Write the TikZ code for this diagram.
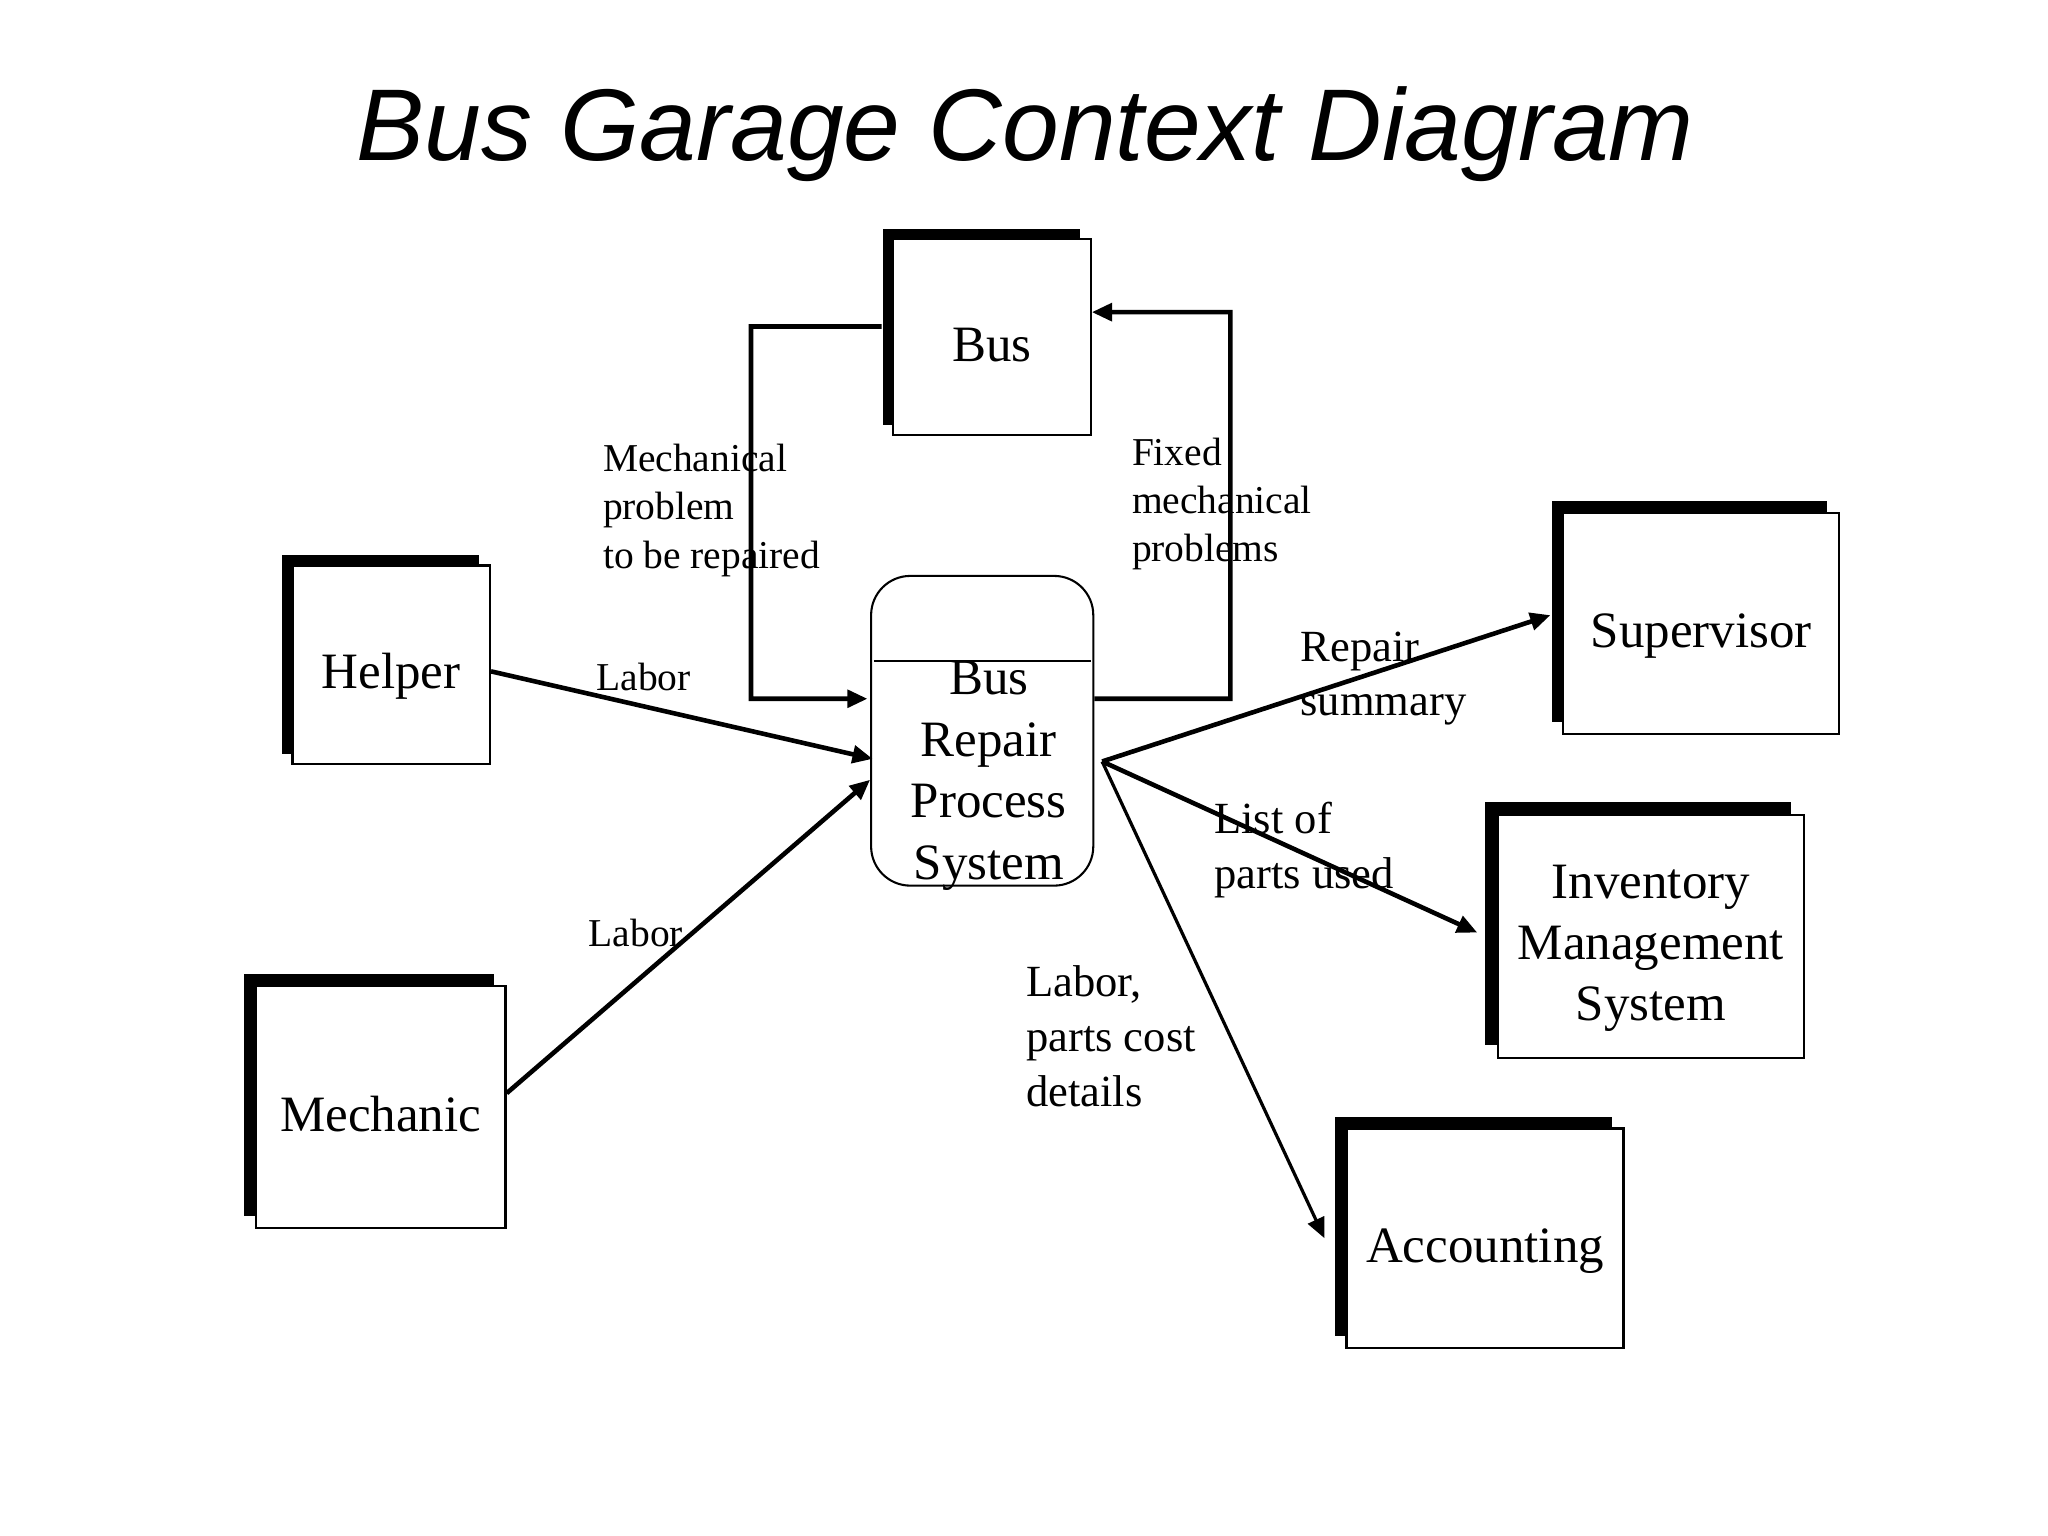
\documentclass[tikz,border=0pt]{standalone}
\usepackage{fontspec}
\setmainfont{Liberation Serif}
\newfontfamily\titlefont{Liberation Sans}
\usetikzlibrary{arrows.meta,shadows}
\tikzset{
  entity/.style={draw, line width=0.5pt, fill=white, inner sep=0pt, align=center,
    font=\fontsize{11.1}{13.3}\selectfont, text height=10.5pt, text depth=0pt,
    general shadow={fill=black, draw=none, shadow xshift=-#1, shadow yshift=#1}},
  entity/.default=0.09cm,
  flow/.style={line width=1pt, -{Triangle[length=4.4pt,width=3.8pt]}},
  lbl/.style={anchor=base west, align=left, inner sep=0pt, font=\fontsize{8.6}{10.5}\selectfont},
  biglbl/.style={anchor=base west, align=left, inner sep=0pt, font=\fontsize{9.7}{11.9}\selectfont},
}
\begin{document}
\begin{tikzpicture}[x=0.01cm,y=-0.01cm]
\useasboundingbox (0,0) rectangle (1568,1176);
\node[anchor=base, inner sep=0pt, font=\titlefont\itshape\fontsize{22.2}{26}\selectfont] (title) at (785,123) {Bus Garage Context Diagram};

\node[entity=0.08cm, minimum width=1.51cm, minimum height=1.50cm] (bus) at (759.5,258) {Bus};
\node[entity=0.08cm, minimum width=1.51cm, minimum height=1.52cm] (helper) at (299.5,509) {Helper};
\node[entity=0.09cm, minimum width=1.91cm, minimum height=1.85cm] (mech) at (291.5,847.5) {Mechanic};
\node[entity, minimum width=2.11cm, minimum height=1.69cm] (sup) at (1302.5,477.5) {Supervisor};
\node[entity=0.1cm, minimum width=2.34cm, minimum height=1.86cm, text height=36.8pt] (inv) at (1264,717) {Inventory\\Management\\System};
\node[entity, minimum width=2.12cm, minimum height=1.68cm] (acc) at (1137,948) {Accounting};

\node[draw, line width=0.45pt, rounded corners=0.3cm, minimum width=1.70cm, minimum height=2.37cm, inner sep=0pt] (proc) at (752,559.5) {};
\draw[line width=0.4pt] (669,506) -- (835,506);
\node[inner sep=0pt, align=center, font=\fontsize{11.1}{13.4}\selectfont] (ptext) at (757,594) {Bus\\Repair\\Process\\System};

\draw[flow] ([xshift=-0.08cm,yshift=0.08cm]bus.west) -| (575,535) -- ([xshift=-0.02cm,yshift=0.245cm]proc.west);
\draw[flow] ([yshift=0.245cm]proc.east) -| (942,239) -- ([yshift=0.19cm]bus.east);
\draw[flow] ([yshift=-0.05cm]helper.east) -- ([xshift=0.02cm,yshift=-0.215cm]proc.west);
\draw[flow] ([yshift=0.105cm]mech.east) -- ([yshift=-0.375cm]proc.west);
\coordinate (hub) at ([xshift=0.06cm,yshift=-0.235cm]proc.east);
\draw[flow] (hub) -- ([xshift=-0.09cm,yshift=0.065cm]sup.west);
\draw[flow] (hub) -- ([xshift=-0.15cm,yshift=0.03cm]inv.west);
\draw[flow, line width=0.7pt] (hub) -- ([xshift=-0.16cm]acc.west);

\node[lbl] (l1) at (461,435) {Mechanical\\problem\\to be repaired};
\node[lbl] (l2) at (866,430) {Fixed\\mechanical\\problems};
\node[lbl] (l3) at (456,529) {Labor};
\node[lbl] (l4) at (450,725) {Labor};
\node[biglbl] (l5) at (995,548) {Repair\\summary};
\node[biglbl] (l6) at (929,680) {List of\\parts used};
\node[biglbl] (l7) at (785,847) {Labor,\\parts cost\\details};
\end{tikzpicture}
\end{document}
